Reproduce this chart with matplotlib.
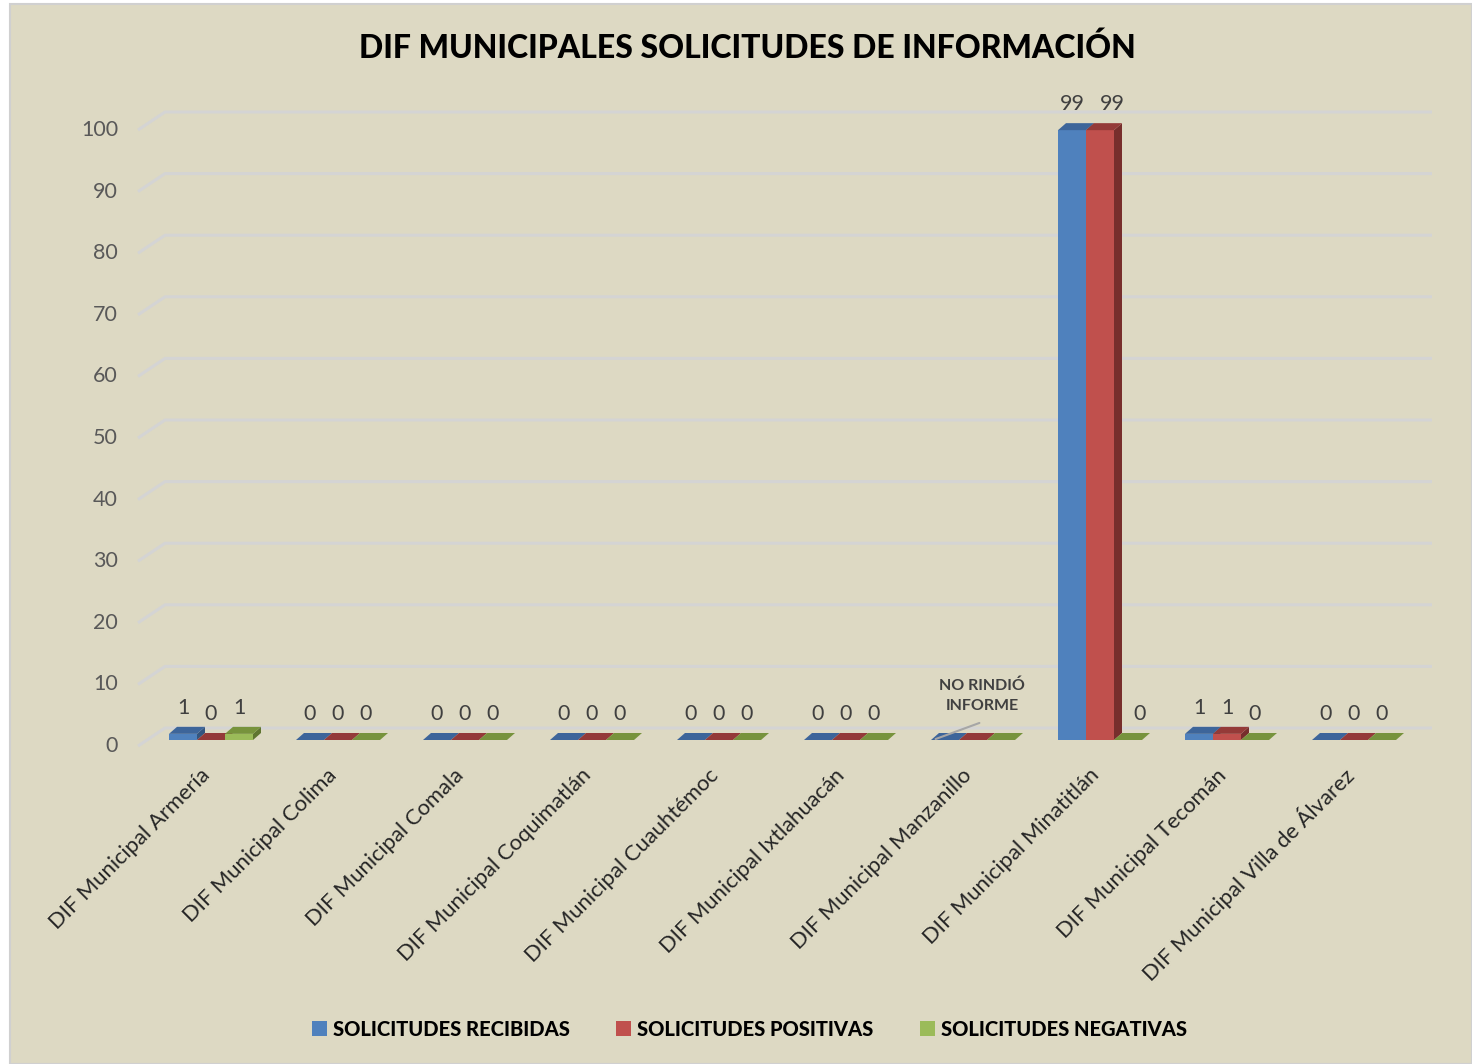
import matplotlib
matplotlib.use("Agg")
import matplotlib.pyplot as plt
from matplotlib.patches import Polygon, Rectangle, Patch

# ---------------- data ----------------
categories = ["DIF Municipal Armería", "DIF Municipal Colima", "DIF Municipal Comala",
              "DIF Municipal Coquimatlán", "DIF Municipal Cuauhtémoc", "DIF Municipal Ixtlahuacán",
              "DIF Municipal Manzanillo", "DIF Municipal Minatitlán", "DIF Municipal Tecomán",
              "DIF Municipal Villa de Álvarez"]
recibidas = [1, 0, 0, 0, 0, 0, None, 99, 1, 0]
positivas = [0, 0, 0, 0, 0, 0, None, 99, 1, 0]
negativas = [1, 0, 0, 0, 0, 0, None, 0, 0, 0]
series_names = ["SOLICITUDES RECIBIDAS", "SOLICITUDES POSITIVAS", "SOLICITUDES NEGATIVAS"]
y_ticks = list(range(0, 101, 10))
title = "DIF MUNICIPALES SOLICITUDES DE INFORMACIÓN"
note = "NO RINDIÓ\nINFORME"

# ---------------- style ----------------
FONT = ["Lato", "DejaVu Sans"]
plt.rcParams["font.family"] = FONT
front_c = ["#4F81BD", "#C0504D", "#9BBB59"]
top_c = ["#3D659A", "#943A38", "#77933C"]
side_c = ["#33557F", "#772E2C", "#5F7530"]
BG = "#DDD9C3"
GRID = "#D4D4D4"

W, H = 1472, 1064
fig = plt.figure(figsize=(W / 100, H / 100), dpi=100, facecolor="white")
fig.patches.append(Rectangle((10 / W, 0), 1 - 10 / W, 1 - 4 / H, transform=fig.transFigure,
                             facecolor=BG, edgecolor="#D0D0D0", linewidth=1.5, zorder=-10))

# axes: x -0.5..9.5 -> px 147.5..1417.5 ; y 0..100 -> px 740..124 (from top)
PXC = 127.0           # pixels per category
PYU = 6.16            # pixels per unit
left_px, right_px = 147.5, 1417.5
bot_px, top_px = 740, 124
ax = fig.add_axes([left_px / W, 1 - bot_px / H, (right_px - left_px) / W, (bot_px - top_px) / H])
ax.set_zorder(5)
ax.set_xlim(-0.5, 9.5)
ax.set_ylim(0, 100)
ax.axis("off")
ax.patch.set_alpha(0)

def dx(px):
    return px / PXC

def dy(px):
    return px / PYU

def xpix(px):
    return (px - 211.0) / PXC

# gridlines (pseudo 3D walls)
for v in y_ticks:
    xs = [xpix(138), xpix(165), xpix(1432)]
    ys = [v - dy(6), v + dy(12), v + dy(12)]
    ax.plot(xs, ys, color=GRID, lw=2.2, clip_on=False, zorder=1, solid_capstyle="butt")
    ax.text(xpix(118), v - dy(6), str(v), ha="right", va="center", fontsize=15.5,
            color="#595959", clip_on=False)

# bars
bw = dx(28)
ddx, ddy = dx(8), dy(7)
series = [recibidas, positivas, negativas]
for i in range(len(categories)):
    shift = 0
    for s, vals in enumerate(series):
        v = vals[i]
        h = 0 if v is None else v
        x0 = i + (s - 1.5) * bw
        if h > 0:
            ax.add_patch(Rectangle((x0, 0), bw, h, facecolor=front_c[s], edgecolor="none",
                                   zorder=3 + s, clip_on=False))
            ax.add_patch(Polygon([(x0 + bw, 0), (x0 + bw + ddx, ddy), (x0 + bw + ddx, h + ddy),
                                  (x0 + bw, h)], closed=True, facecolor=side_c[s],
                                 edgecolor="none", zorder=3 + s, clip_on=False))
        ax.add_patch(Polygon([(x0, h), (x0 + bw, h), (x0 + bw + ddx, h + ddy), (x0 + ddx, h + ddy)],
                             closed=True, facecolor=top_c[s], edgecolor="none",
                             zorder=3 + s, clip_on=False))
        if v is not None:
            # nudge a label that follows a wide (two-digit) label so they don't collide
            ax.annotate(str(v), (x0 + bw / 2, h), xytext=(shift, 26), textcoords="offset pixels",
                        ha="center", va="center", fontsize=15.5, color="#404040",
                        annotation_clip=False, zorder=10)
            shift = 12 if len(str(v)) > 1 else 0

# category labels
for i, c in enumerate(categories):
    ax.annotate(c, (i, 0), xytext=(-4, -32), textcoords="offset pixels", ha="right", va="center",
                rotation=45, rotation_mode="anchor", fontsize=15.8, color="#262626",
                annotation_clip=False)

# note for Manzanillo
mi = categories.index("DIF Municipal Manzanillo")
ax.annotate("", xy=(mi - 1.5 * bw + dx(2), 0), xytext=(mi + dx(9), dy(18)),
            arrowprops=dict(arrowstyle="-", color="#A6A6A6", lw=1.5), annotation_clip=False)
ax.text(mi + dx(9), dy(44), note, ha="center", va="center", fontsize=11.5, fontweight="bold",
        color="#404040", linespacing=1.55, clip_on=False)

# title
fig.text(0.508, 1 - 48 / H, title, ha="center", va="center", fontsize=23, fontweight="black",
         color="black")

# legend
handles = [Patch(facecolor=front_c[s], edgecolor="none", label=series_names[s]) for s in range(3)]
leg = fig.legend(handles=handles, loc="center", bbox_to_anchor=(0.509, 1 - 1029 / H), ncol=3,
                 frameon=False, handlelength=0.75, handleheight=0.75, handletextpad=0.3,
                 columnspacing=2.3, prop=dict(family=FONT, weight="black", size=14.5))
for t in leg.get_texts():
    t.set_color("black")

fig.savefig("out.png", dpi=100, facecolor=fig.get_facecolor())
